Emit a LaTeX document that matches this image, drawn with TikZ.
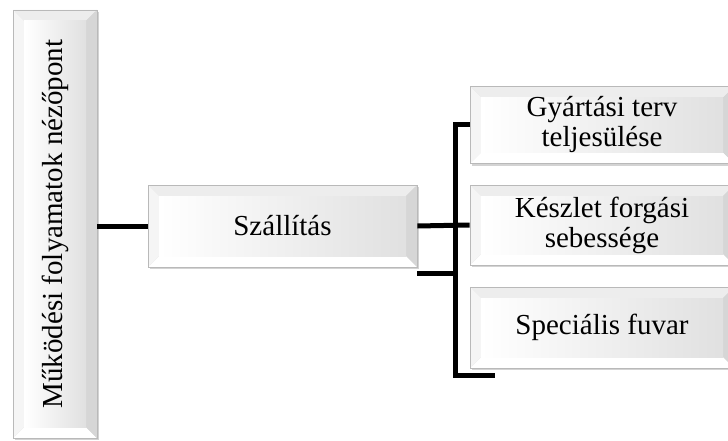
\documentclass[tikz,border=0pt]{standalone}
\usepackage{fontspec}
\setmainfont{Liberation Serif}
\usepackage{tikz}
\usetikzlibrary{shadows}

\newcommand{\bev}{11pt}
\tikzset{
  bevelbox/.style={draw=gray!55, line width=.8pt, align=center, inner sep=0pt,
    font=\fontsize{29}{30}\selectfont,
    drop shadow={shadow xshift=1.5pt, shadow yshift=-2pt, opacity=.35},
    path picture={
      \coordinate (tl) at (path picture bounding box.north west);
      \coordinate (tr) at (path picture bounding box.north east);
      \coordinate (bl) at (path picture bounding box.south west);
      \coordinate (br) at (path picture bounding box.south east);
      \coordinate (itl) at ([shift={(\bev,-\bev)}]tl);
      \coordinate (itr) at ([shift={(-\bev,-\bev)}]tr);
      \coordinate (ibl) at ([shift={(\bev,\bev)}]bl);
      \coordinate (ibr) at ([shift={(-\bev,\bev)}]br);
      \fill[gray!14] (tl) -- (tr) -- (itr) -- (itl) -- cycle;
      \fill[white] (bl) -- (br) -- (ibr) -- (ibl) -- cycle;
      \fill[gray!8] (tl) -- (itl) -- (ibl) -- (bl) -- cycle;
      \fill[gray!32] (tr) -- (itr) -- (ibr) -- (br) -- cycle;
      \shade[left color=white, right color=gray!24] (itl) rectangle (ibr);
    }},
  link/.style={line width=5pt, black, line join=miter}
}

\begin{document}
\begin{tikzpicture}[x=1pt, y=-1pt]
	\useasboundingbox (0,0) rectangle (728,441);
	\node[bevelbox, minimum width=84pt, minimum height=428pt] (view) at (55,224)
	  {\rotatebox{90}{Működési folyamatok nézőpont}};
	\node[bevelbox, minimum width=269pt, minimum height=82pt] (transport) at (282.5,226) {Szállítás};
	\node[bevelbox, minimum width=264pt, minimum height=77pt] (plan) at (602,125) {Gyártási terv\\teljesülése};
	\node[bevelbox, minimum width=264pt, minimum height=80pt] (stock) at (602,225) {Készlet forgási\\sebessége};
	\node[bevelbox, minimum width=264pt, minimum height=81pt] (freight) at (602,327.5) {Speciális fuvar};
	\coordinate (bus) at (455,375);
	\coordinate (busend) at (495,375);
	\draw[link] (view.east |- transport.west) -- (transport.west);
	\draw[link] (transport.east) -- (stock.west);
	\draw[link] ([yshift=-6pt]transport.south east) -| (bus);
	\draw[link] (plan.west) -| (bus) -- (busend);
\end{tikzpicture}
\end{document}
